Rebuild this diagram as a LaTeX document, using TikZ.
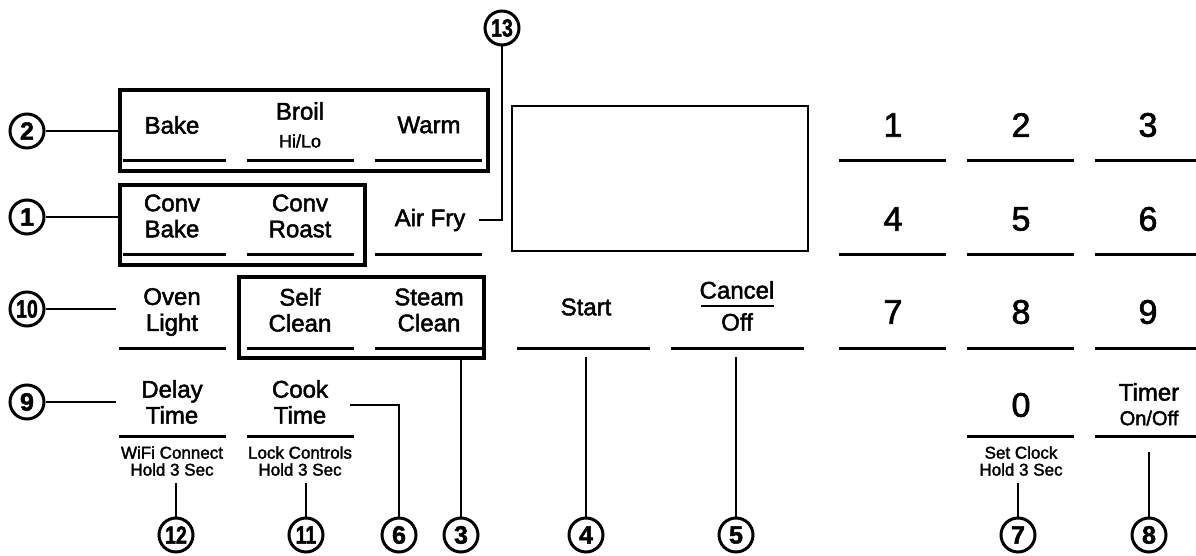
\documentclass[tikz,border=0pt]{standalone}
\usepackage{fontspec}
\setmainfont{Liberation Sans}[FakeBold=2]
\usetikzlibrary{positioning,calc}

\begin{document}
\begin{tikzpicture}[x=1pt,y=-1pt,
btn/.style={font=\fontsize{24}{26}\selectfont,align=center,inner sep=2pt},
sub/.style={font=\fontsize{17}{17}\selectfont,align=center,inner sep=2pt},
digit/.style={font=\fontsize{34}{34}\selectfont,inner sep=2pt},
callout/.style={circle,draw,line width=3pt,minimum size=34pt,inner sep=0pt,font=\fontsize{25}{25}\selectfont\bfseries},
group/.style={draw,line width=4pt},
keyline/.style={line width=3pt},
leader/.style={line width=2.6pt}]
\useasboundingbox (0,0) rectangle (1196,556);
\node[group,minimum width=368pt,minimum height=81pt] (ovengroup) at (304,130.5) {};
\node[group,minimum width=245pt,minimum height=80pt] (convgroup) at (242.5,225) {};
\node[group,minimum width=245pt,minimum height=81pt] (cleangroup) at (361.5,317.5) {};
\node[draw,line width=2.5pt,minimum width=296pt,minimum height=145pt] (display) at (660,178.5) {};
\node[btn] (bake) at (172,125) {Bake};
\node[btn] (broil) at (300,111) {Broil};
\node[sub,font=\fontsize{18}{18}\selectfont] (broilsub) at (300,141) {Hi/Lo};
\node[btn] (warm) at (429,125) {Warm};
\node[btn] (convbake) at (172,216) {Conv\\Bake};
\node[btn] (convroast) at (300,216) {Conv\\Roast};
\node[btn] (airfry) at (430,220) {Air Fry};
\node[btn] (ovenlight) at (172,312) {Oven\\Light};
\node[btn] (selfclean) at (300,310) {Self\\Clean};
\node[btn] (steamclean) at (429,310) {Steam\\Clean};
\node[btn] (start) at (586,307) {Start};
\node[btn] (cancel) at (737,290) {Cancel};
\node[btn] (off) at (737,322) {Off};
\node[btn] (delaytime) at (172,402) {Delay\\Time};
\node[btn] (cooktime) at (300,402) {Cook\\Time};
\node[sub] (wifi) at (172,461) {WiFi Connect\\Hold 3 Sec};
\node[sub] (lock) at (300,461) {Lock Controls\\Hold 3 Sec};
\node[btn] (timer) at (1149,392) {Timer};
\node[sub,font=\fontsize{20}{20}\selectfont] (timersub) at (1149,418) {On/Off};
\node[sub] (setclock) at (1021,461) {Set Clock\\Hold 3 Sec};
\foreach \d/\x/\y in {1/893/125,2/1021/125,3/1148/125,4/893/219,5/1021/219,6/1148/219,7/893/312,8/1021/312,9/1148/312,0/1021/405}
\node[digit] (key\d) at (\x,\y) {\d};
\foreach \a/\b in {123/226,247/354,375/482,839/946,967/1074,1095/1196}{
\draw[keyline] (\a,160.5)--(\b,160.5);
\draw[keyline] (\a,254.5)--(\b,254.5);}
\foreach \a/\b in {119/226,247/354,375/482,517/650,671/804,839/946,967/1074,1095/1196}
\draw[keyline] (\a,348)--(\b,348);
\foreach \a/\b in {119/226,247/354,967/1074,1095/1196}
\draw[keyline] (\a,436)--(\b,436);
\draw[line width=2.5pt] (701,306)--(774,306);
\foreach \n/\x/\y in {2/27/131,1/27/217,9/27/402,6/399/535,3/461/535,4/586/535,5/736/535,7/1018/535,8/1149/535}
\node[callout] (n\n) at (\x,\y) {\n};
\foreach \n/\x/\y in {10/27/309,13/502/28,12/176/535,11/306/535}
\node[callout] (n\n) at (\x,\y) {\scalebox{0.78}[1]{\n}};
\coordinate (ovenend) at (116,309);
\coordinate (delayend) at (116,402);
\coordinate (startend) at (586,357);
\coordinate (cancelend) at (736,357);
\coordinate (timerend) at (1149,452);
\draw[leader] (n2)--(n2 -| ovengroup.west);
\draw[leader] (n1)--(n1 -| convgroup.west);
\draw[leader] (n10)--(ovenend);
\draw[leader] (n9)--(delayend);
\draw[leader,line width=2pt] ([xshift=11pt]airfry.east) -| (n13);
\draw[leader] ([xshift=20pt,yshift=-3pt]cooktime.east) -| (n6);
\draw[leader] (n3)--(n3 |- cleangroup.south);
\draw[leader] (n12)--($(n12 |- wifi.south)+(0,5)$);
\draw[leader] (n11)--($(n11 |- lock.south)+(0,5)$);
\draw[leader] (n4)--(startend);
\draw[leader] (n5)--(cancelend);
\draw[leader] (n7)--($(n7 |- setclock.south)+(0,5)$);
\draw[leader] (n8)--(timerend);
\end{tikzpicture}
\end{document}
